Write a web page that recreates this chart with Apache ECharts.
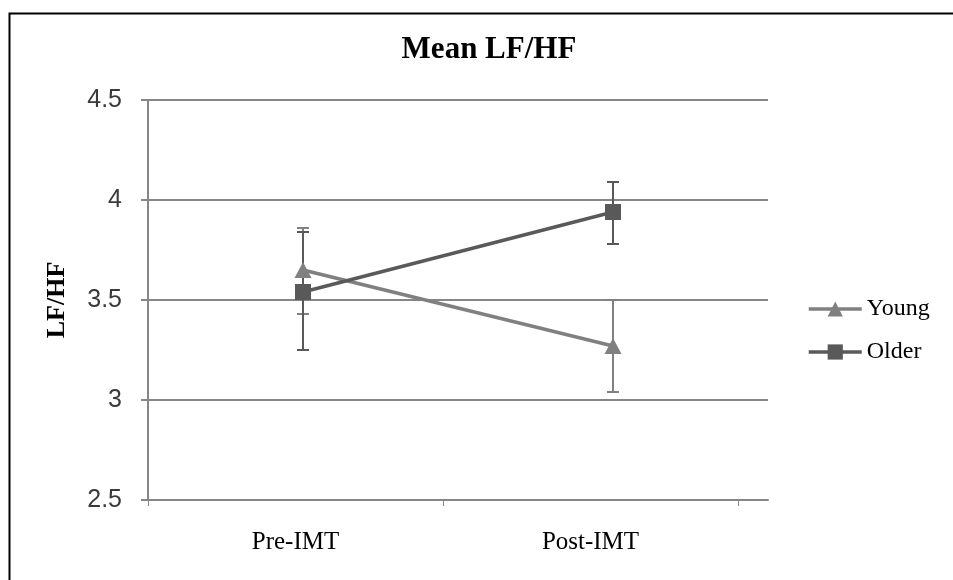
<!DOCTYPE html>
<html>
<head>
<meta charset="utf-8">
<script src="https://cdn.jsdelivr.net/npm/echarts@6/dist/echarts.min.js"></script>
<style>
  html, body { margin: 0; padding: 0; background: #fff; }
  #chart { width: 953px; height: 580px; }
</style>
</head>
<body>
<div id="chart"></div>
<script>
// Mean LF/HF before and after IMT, with error bars for each group
const categories = ['Pre-IMT', 'Post-IMT'];
const youngMean = [3.65, 3.27];
const youngLow = [3.43, 3.04];
const youngHigh = [3.86, 3.50];
const olderMean = [3.54, 3.94];
const olderLow = [3.25, 3.78];
const olderHigh = [3.84, 4.09];

const youngColor = '#808080';
const olderColor = '#595959';
const gridColor = '#868686';
const serif = '"Liberation Serif", "Times New Roman", serif';
const sans = '"Liberation Sans Narrow", "Liberation Sans", Arial, sans-serif';

function errorBars(name, lows, highs, color, z) {
  return {
    type: 'custom',
    name: name,
    z: z,
    silent: true,
    data: categories.map((c, i) => [i, lows[i], highs[i]]),
    renderItem: function (params, api) {
      const hi = api.coord([api.value(0), api.value(2)]);
      const lo = api.coord([api.value(0), api.value(1)]);
      const hw = 6;
      const style = { stroke: color, lineWidth: 2 };
      return {
        type: 'group',
        children: [
          { type: 'line', shape: { x1: hi[0], y1: hi[1], x2: lo[0], y2: lo[1] }, style: style },
          { type: 'line', shape: { x1: hi[0] - hw, y1: hi[1], x2: hi[0] + hw, y2: hi[1] }, style: style },
          { type: 'line', shape: { x1: lo[0] - hw, y1: lo[1], x2: lo[0] + hw, y2: lo[1] }, style: style }
        ]
      };
    }
  };
}

const chart = echarts.init(document.getElementById('chart'), null, { renderer: 'canvas' });
chart.setOption({
  animation: false,
  backgroundColor: '#fff',
  graphic: [{
    type: 'rect',
    left: 7, top: 11,
    shape: { width: 2000, height: 2000 },
    style: { fill: 'none', stroke: '#000', lineWidth: 2 },
    z: 100
  }],
  title: {
    text: 'Mean LF/HF',
    left: 484, top: 29,
    textAlign: 'center',
    textStyle: { fontFamily: serif, fontWeight: 'bold', fontSize: 31, color: '#000' }
  },
  legend: {
    orient: 'vertical',
    left: 807, top: 297,
    padding: 0,
    data: ['Young', 'Older'],
    itemWidth: 53, itemHeight: 19,
    itemGap: 19,
    lineStyle: { width: 3.5 },
    textStyle: { fontFamily: serif, fontSize: 24, color: '#000', lineHeight: 24 }
  },
  grid: [
    { left: 148, right: 185, top: 100, bottom: 80 },
    // label band for the category names, slightly narrower than the plot
    { left: 148, right: 215, top: 100, bottom: 80 }
  ],
  xAxis: [
    {
      type: 'category',
      gridIndex: 0,
      data: categories,
      boundaryGap: true,
      axisLine: { lineStyle: { color: gridColor, width: 2 } },
      axisTick: { show: false },
      axisLabel: { show: false }
    },
    {
      type: 'category',
      gridIndex: 1,
      data: categories,
      boundaryGap: true,
      axisLine: { show: false },
      axisTick: {
        show: true, length: 6,
        interval: function (index) { return index < 2; },
        lineStyle: { color: gridColor, width: 1 }
      },
      axisLabel: { fontFamily: serif, fontSize: 25, color: '#000', margin: 30 }
    }
  ],
  yAxis: [
    {
      type: 'value',
      gridIndex: 0,
      min: 2.5, max: 4.5, interval: 0.5,
      name: 'LF/HF',
      nameLocation: 'middle',
      nameGap: 78,
      nameRotate: 90,
      nameTextStyle: { fontFamily: serif, fontWeight: 'bold', fontSize: 26, color: '#000' },
      axisLine: { show: true, lineStyle: { color: gridColor, width: 2 } },
      axisTick: { show: true, length: 7, lineStyle: { color: gridColor, width: 2 } },
      axisLabel: { fontFamily: sans, fontSize: 25, color: '#3a3a3a', margin: 26 },
      splitLine: { lineStyle: { color: gridColor, width: 2 } }
    },
    {
      type: 'value',
      gridIndex: 1,
      min: 2.5, max: 4.5, interval: 0.5,
      show: false,
      splitLine: { show: false }
    }
  ],
  series: [
    errorBars('Young SD', youngLow, youngHigh, youngColor, 2),
    errorBars('Older SD', olderLow, olderHigh, olderColor, 3),
    {
      name: 'Young', type: 'line', data: youngMean, z: 4,
      symbol: 'triangle', symbolSize: [17, 16],
      lineStyle: { color: youngColor, width: 3.5 },
      itemStyle: { color: youngColor }
    },
    {
      name: 'Older', type: 'line', data: olderMean, z: 5,
      symbol: 'rect', symbolSize: 16,
      lineStyle: { color: olderColor, width: 3.5 },
      itemStyle: { color: olderColor }
    }
  ]
});
</script>
</body>
</html>
